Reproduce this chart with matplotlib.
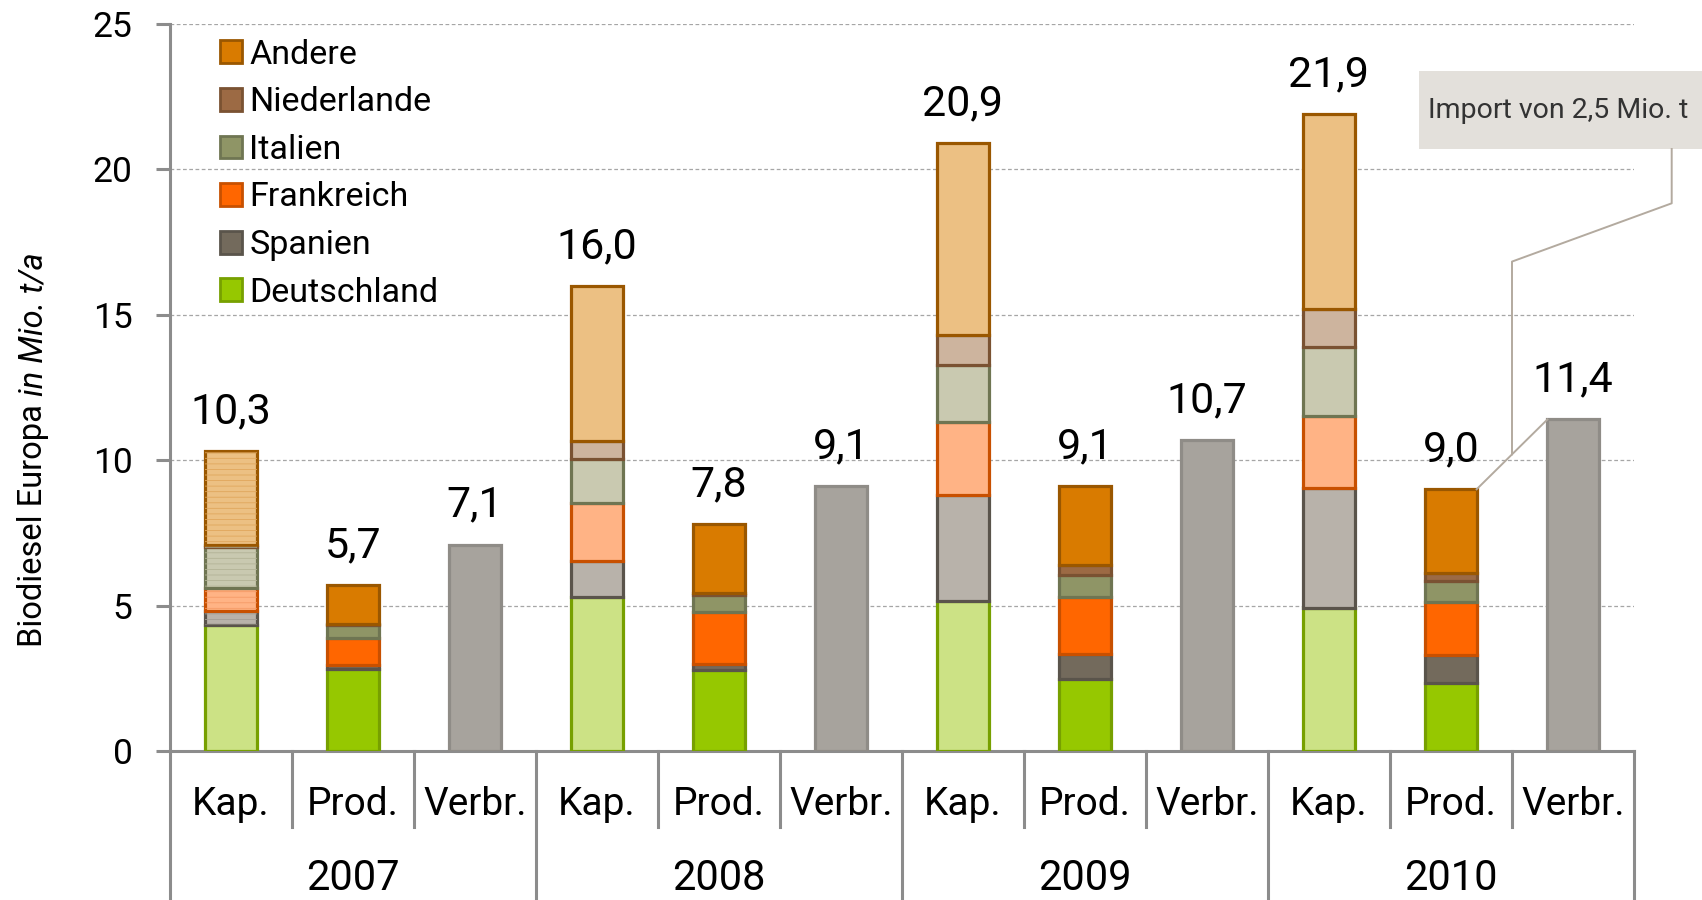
import matplotlib.pyplot as plt
import numpy as np
from matplotlib.patches import Patch, Rectangle
from matplotlib.lines import Line2D
import matplotlib.transforms as mtransforms

plt.rcParams['font.family'] = ['Roboto', 'DejaVu Sans']
plt.rcParams['hatch.linewidth'] = 0.6

years = ['2007', '2008', '2009', '2010']
bar_names = ['Kap.', 'Prod.', 'Verbr.']
countries = ['Deutschland', 'Spanien', 'Frankreich', 'Italien', 'Niederlande', 'Andere']

# Kapazitaet (Mio. t/a), je Land, 2007..2010
kap_deutschland = [4.33, 5.28, 5.16, 4.91]
kap_spanien = [0.48, 1.25, 3.66, 4.12]
kap_frankreich = [0.81, 1.99, 2.51, 2.49]
kap_italien = [1.41, 1.51, 1.93, 2.38]
kap_niederlande = [0.05, 0.63, 1.04, 1.30]
kap_andere = [3.22, 5.34, 6.60, 6.70]

# Produktion (Mio. t/a)
prod_deutschland = [2.81, 2.79, 2.49, 2.35]
prod_spanien = [0.15, 0.19, 0.86, 0.96]
prod_frankreich = [0.91, 1.81, 1.96, 1.80]
prod_italien = [0.46, 0.57, 0.75, 0.74]
prod_niederlande = [0.05, 0.08, 0.34, 0.27]
prod_andere = [1.32, 2.36, 2.70, 2.88]

# Verbrauch (Mio. t/a)
verbrauch = [7.1, 9.1, 10.7, 11.4]

import_note = 'Import von 2,5 Mio. t'

kap = np.array([kap_deutschland, kap_spanien, kap_frankreich, kap_italien, kap_niederlande, kap_andere])
prod = np.array([prod_deutschland, prod_spanien, prod_frankreich, prod_italien, prod_niederlande, prod_andere])

strong = ['#96C800', '#736A5C', '#FF6600', '#8F9566', '#9C6A44', '#D97B00']
light = ['#CCE285', '#B8B2AA', '#FFB385', '#C9C9B0', '#CDB49E', '#ECC083']
edges = ['#77A000', '#5A544B', '#C85000', '#6F7552', '#7A5232', '#9A5700']
stripes = [None, '#A39D95', '#F59A66', '#B3B396', '#B89C85', '#E0A65C']
verb_fill = '#A7A39D'
verb_edge = '#8F8C87'
axis_grey = '#8C8C8C'

fig = plt.figure(figsize=(17.02, 9.0), dpi=100)
ax = fig.add_axes([170 / 1702, 1 - 751 / 900, 1464 / 1702, 727 / 900])

w = 0.42
n = len(years)
x_kap = np.arange(n) * 3
x_prod = x_kap + 1
x_verb = x_kap + 2

bk = np.zeros(n)
bp = np.zeros(n)
for i in range(len(countries)):
    ax.bar(x_kap, kap[i], w, bottom=bk, color=light[i], edgecolor=edges[i], lw=2.3, zorder=3)
    # 2007 capacity bar is striped
    if stripes[i]:
        ax.bar(x_kap[:1], kap[i][:1], w, bottom=bk[:1], fill=False, hatch='---',
               edgecolor=stripes[i], lw=0, zorder=3.5)
    ax.bar(x_prod, prod[i], w, bottom=bp, color=strong[i], edgecolor=edges[i], lw=2.3, zorder=3)
    bk = bk + kap[i]
    bp = bp + prod[i]
ax.bar(x_verb, verbrauch, w, color=verb_fill, edgecolor=verb_edge, lw=2.3, zorder=3)

def fmt(v):
    return f'{v:.1f}'.replace('.', ',')

for xs, tops in [(x_kap, bk), (x_prod, bp), (x_verb, verbrauch)]:
    for xv, t in zip(xs, tops):
        ax.annotate(fmt(t), (xv, t), xytext=(0, 20), textcoords='offset points',
                    ha='center', va='baseline', fontsize=31, zorder=5)

ax.set_xlim(-0.5, 3 * n - 0.5)
ax.set_ylim(0, 25)
ax.set_yticks([0, 5, 10, 15, 20, 25])
ax.yaxis.grid(True, linestyle=(0, (3, 2)), color='#A6A6A6', lw=0.9)
ax.set_axisbelow(True)
for s in ['top', 'right']:
    ax.spines[s].set_visible(False)
for s in ['left', 'bottom']:
    ax.spines[s].set_color(axis_grey)
    ax.spines[s].set_linewidth(2.2)
ax.tick_params(axis='y', direction='out', length=10, width=2.2, color=axis_grey,
               labelsize=25.5, pad=17)
ax.tick_params(axis='x', length=0, labelbottom=False)

# category table below the axis
tr = mtransforms.blended_transform_factory(ax.transData, ax.transAxes)
for k in range(3 * n + 1):
    xv = k - 0.5
    low = -0.205 if k % 3 == 0 else -0.105
    ax.add_line(Line2D([xv, xv], [0, low], transform=tr, color=axis_grey, lw=2.2, clip_on=False))
for j in range(n):
    for b in range(3):
        ax.text(3 * j + b, -0.074, bar_names[b], transform=tr, ha='center', va='center', fontsize=28)
    ax.text(3 * j + 1, -0.176, years[j], transform=tr, ha='center', va='center', fontsize=30)

# y label: regular part + italic part
renderer = fig.canvas.get_renderer()
lab_x = 33 / 1702
t1 = fig.text(lab_x, 0, 'Biodiesel Europa ', rotation=90, ha='center', va='bottom', fontsize=23.5)
t2 = fig.text(lab_x, 0, 'in Mio. t/a', rotation=90, ha='center', va='bottom', fontsize=23.5, style='italic')
h1 = t1.get_window_extent(renderer).height / fig.bbox.height
h2 = t2.get_window_extent(renderer).height / fig.bbox.height
y0 = 0.5 - (h1 + h2) / 2
t1.set_y(y0)
t2.set_y(y0 + h1)

handles = [Patch(facecolor=strong[i], edgecolor=edges[i], lw=2) for i in range(len(countries))][::-1]
ax.legend(handles, countries[::-1], loc='upper left', bbox_to_anchor=(0.034, 0.98),
          frameon=False, fontsize=24.5, handlelength=0.65, handleheight=0.65,
          handletextpad=0.22, labelspacing=0.46, borderpad=0, borderaxespad=0)

# callout box with leader line
box = Rectangle((1419 / 1702, 1 - 149 / 900), 283 / 1702, 78 / 900, transform=fig.transFigure,
                facecolor='#E3E0DB', edgecolor='none')
fig.patches.append(box)
fig.text(1558 / 1702, 1 - 110 / 900, import_note, ha='center', va='center', fontsize=20.5, color='#333333')

to_fig = ax.transData + fig.transFigure.inverted()
a = to_fig.transform((x_prod[-1] + w / 2, bp[-1]))
b = to_fig.transform((x_verb[-1] - w / 2, verbrauch[-1]))
mid_x = (x_prod[-1] + x_verb[-1]) / 2
m = to_fig.transform((mid_x, (bp[-1] + verbrauch[-1]) / 2))
p3 = to_fig.transform((mid_x, 16.83))
p2 = (1671.7 / 1702, 1 - 203.3 / 900)
p1 = (1671.7 / 1702, 1 - 149 / 900)
lc = '#B3AA9F'
fig.add_artist(Line2D([a[0], b[0]], [a[1], b[1]], transform=fig.transFigure, color=lc, lw=1.4))
fig.add_artist(Line2D([m[0], p3[0], p2[0], p1[0]], [m[1], p3[1], p2[1], p1[1]],
                      transform=fig.transFigure, color=lc, lw=1.4))

fig.savefig('out.png', dpi=100)
